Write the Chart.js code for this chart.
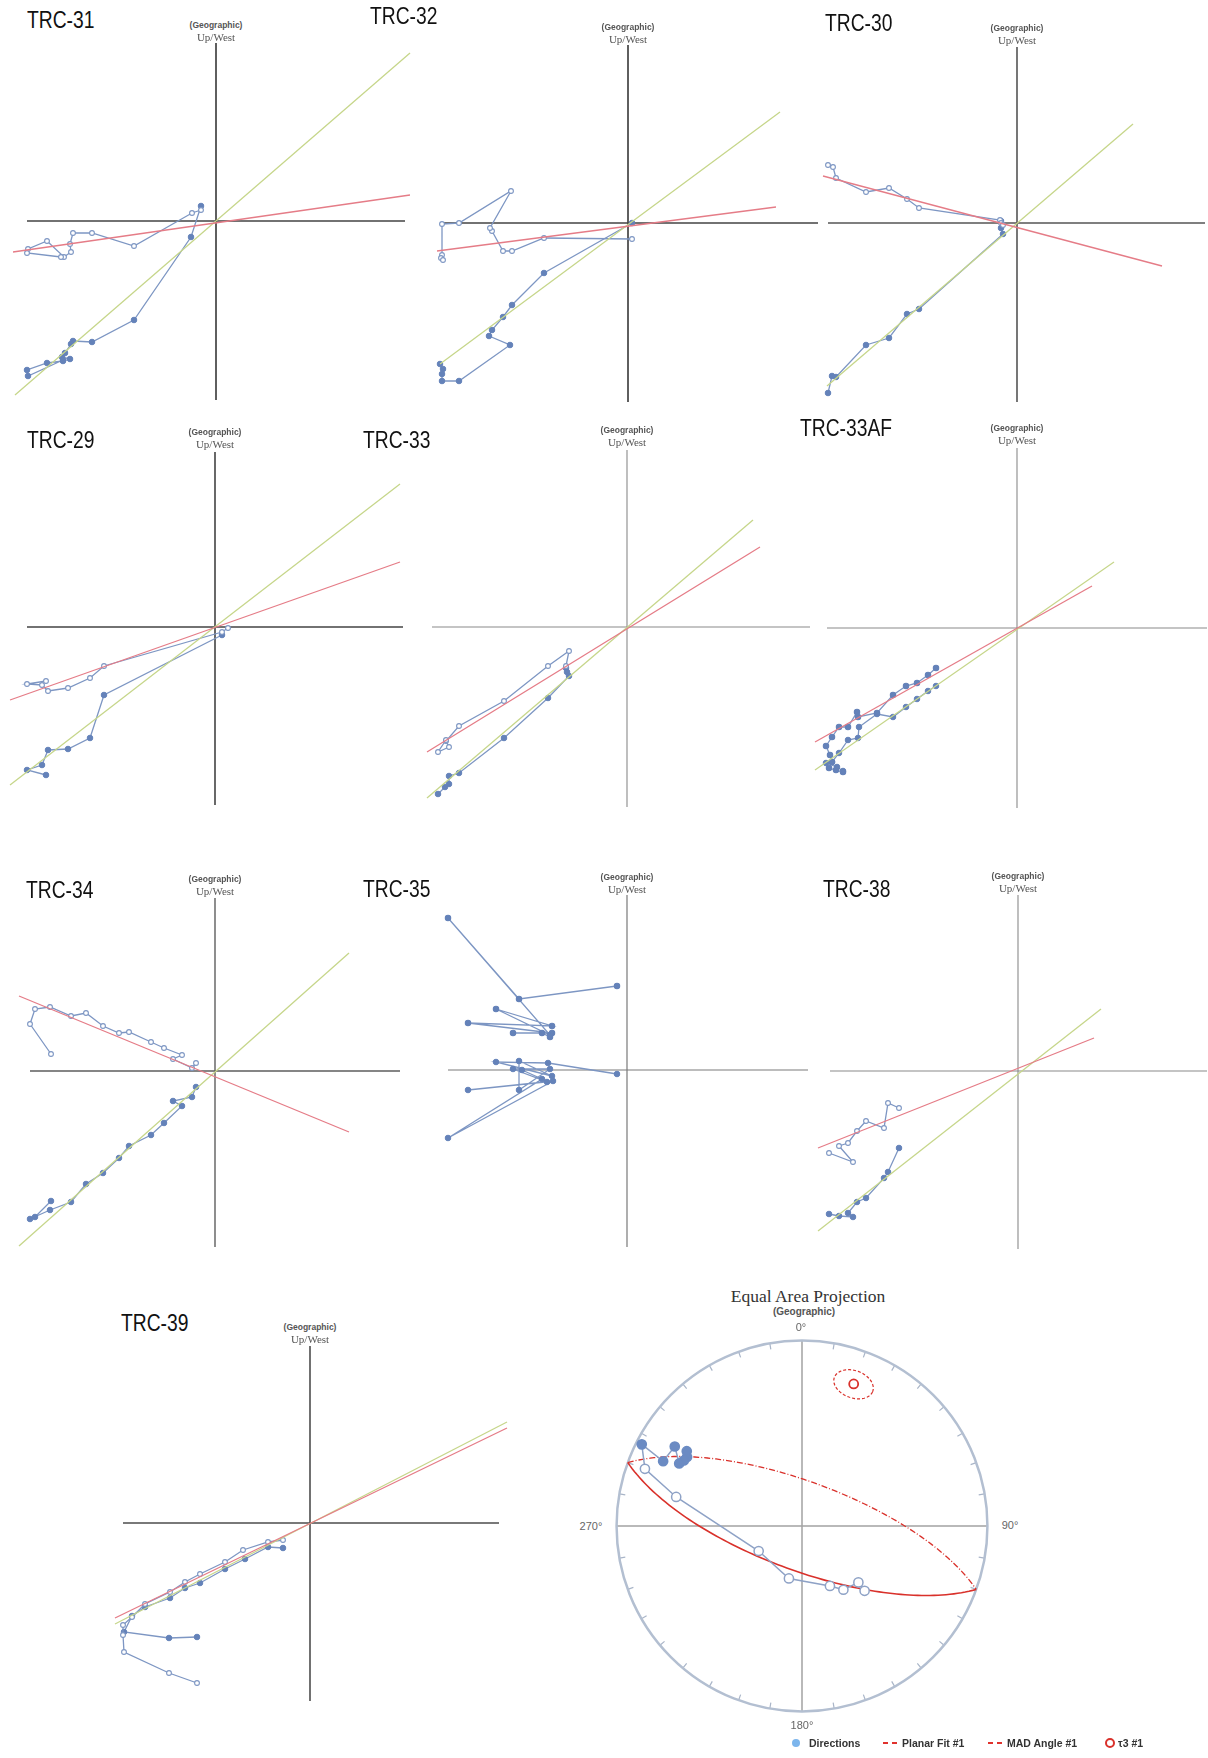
<!DOCTYPE html>
<html>
<head>
<meta charset="utf-8">
<script src="https://cdn.jsdelivr.net/npm/chart.js@4.4.1/dist/chart.umd.min.js"></script>
<style>
html, body { margin: 0; padding: 0; background: #fff; overflow: hidden; }
body { position: relative; width: 1208px; height: 1758px; }
canvas { position: absolute; }
.lbl { position: absolute; white-space: nowrap; }
.title { font-family: "Liberation Sans", Arial, sans-serif; font-size: 23.5px; line-height: 23px; color: #111; transform: scaleX(0.82); transform-origin: left top; }
.geo { font-family: "Liberation Sans", Arial, sans-serif; font-weight: bold; font-size: 8.5px; line-height: 10px; color: #555; transform: translateX(-50%); }
.uw { font-family: "Liberation Serif", "Times New Roman", serif; font-size: 11px; line-height: 12px; color: #555; transform: translateX(-50%); }
.eaTitle { font-family: "Liberation Serif", serif; font-size: 17.5px; line-height: 18px; color: #333; transform: translate(-50%, -50%); }
.eaSub { font-family: "Liberation Sans", Arial, sans-serif; font-weight: bold; font-size: 10px; line-height: 10px; color: #555; transform: translate(-50%, -50%); }
.deg { font-family: "Liberation Sans", Arial, sans-serif; font-size: 11px; line-height: 11px; color: #666; transform: translate(-50%, -50%); }
.leg { font-family: "Liberation Sans", Arial, sans-serif; font-weight: bold; font-size: 10.5px; line-height: 12px; color: #333; top: 1736.5px; }
.dash { position: absolute; top: 1742px; width: 5px; height: 2px; background: #e0322d; }
</style>
</head>
<body>
<script>
// Zijderveld data, [x, y] in plot units (origin = axes crossing)
const trc31H = [[-15,11],[-24,8],[-82,-25],[-124,-12],[-143,-12],[-146,-23],[-145,-31],[-152,-36],[-169,-20],[-188,-28],[-189,-32],[-155,-36]];
const trc31V = [[-15,15],[-25,-16],[-82,-99],[-124,-121],[-143,-120],[-145,-123],[-151,-132],[-154,-136],[-146,-138],[-153,-140],[-169,-142],[-189,-149],[-188,-155],[-153,-139]];
const trc31Green = [[-201,-174],[194,168]];
const trc31Red = [[-203,-31],[194,26]];

const trc32H = [[4,-16],[-84,-15],[-116,-28],[-125,-28],[-136,-8],[-138,-5],[-117,32],[-169,0],[-186,-1],[-186,-32],[-187,-35],[-185,-37]];
const trc32V = [[4,0],[-84,-50],[-116,-82],[-125,-94],[-136,-107],[-139,-113],[-118,-122],[-169,-158],[-186,-158],[-186,-151],[-185,-146],[-188,-141]];
const trc32Green = [[-188,-141],[152,111]];
const trc32Red = [[-191,-28],[148,16]];

const trc30H = [[-189,58],[-184,56],[-181,45],[-151,31],[-128,35],[-110,24],[-98,15],[-17,3],[-16,0],[-14,-2]];
const trc30V = [[-16,2],[-16,-5],[-14,-11],[-98,-86],[-110,-91],[-128,-115],[-151,-122],[-181,-154],[-185,-153],[-189,-170]];
const trc30Green = [[-190,-163],[116,99]];
const trc30Red = [[-194,47],[145,-43]];

const trc29H = [[13,-1],[7,-5],[-111,-39],[-125,-51],[-147,-61],[-167,-64],[-173,-58],[-188,-57],[-169,-54]];
const trc29V = [[7,-8],[-111,-68],[-125,-111],[-147,-122],[-167,-123],[-173,-138],[-188,-143],[-169,-148]];
const trc29Green = [[-205,-158],[185,143]];
const trc29Red = [[-205,-73],[185,65]];

const trc33H = [[-61,-39],[-58,-24],[-79,-39],[-123,-74],[-168,-99],[-181,-114],[-178,-120],[-189,-125],[-181,-113]];
const trc33V = [[-61,-41],[-60,-45],[-58,-49],[-79,-71],[-123,-111],[-168,-146],[-178,-149],[-178,-157],[-182,-160],[-189,-167]];
const trc33Green = [[-200,-171],[126,107]];
const trc33Red = [[-200,-125],[133,80]];

const trc33afH = [[-81,-40],[-89,-47],[-100,-55],[-111,-58],[-124,-67],[-140,-85],[-159,-89],[-160,-84],[-169,-99],[-178,-99],[-185,-109],[-191,-118],[-187,-127],[-185,-134],[-188,-140],[-181,-142],[-174,-144]];
const trc33afV = [[-81,-58],[-89,-63],[-100,-71],[-111,-79],[-124,-89],[-140,-86],[-158,-99],[-159,-110],[-169,-112],[-178,-125],[-185,-134],[-191,-135],[-180,-139],[-174,-143]];
const trc33afGreen = [[-202,-142],[97,66]];
const trc33afRed = [[-202,-114],[75,42]];

const trc34H = [[-19,8],[-23,3],[-42,12],[-33,16],[-51,23],[-64,29],[-86,39],[-96,38],[-112,45],[-129,58],[-144,55],[-165,64],[-180,62],[-185,47],[-164,17]];
const trc34V = [[-19,-16],[-23,-26],[-42,-30],[-33,-35],[-51,-52],[-64,-64],[-86,-75],[-96,-87],[-112,-102],[-129,-113],[-144,-131],[-165,-139],[-185,-148],[-180,-146],[-164,-130]];
const trc34Green = [[-196,-175],[134,118]];
const trc34Red = [[-196,75],[134,-61]];

const trc35H = [[-10,84],[-108,71],[-179,152],[-77,35],[-131,61],[-75,44],[-159,47],[-75,37],[-114,37],[-85,37],[-77,33]];
const trc35V = [[-10,-4],[-79,7],[-131,8],[-75,-6],[-108,9],[-108,-20],[-77,1],[-114,1],[-80,-12],[-159,-20],[-74,-11],[-179,-68],[-85,-9],[-105,0]];

const trc38H = [[-119,-37],[-130,-32],[-134,-57],[-152,-50],[-161,-60],[-170,-72],[-179,-75],[-165,-91],[-189,-82]];
const trc38V = [[-119,-77],[-130,-101],[-134,-107],[-152,-127],[-161,-131],[-170,-142],[-165,-146],[-179,-145],[-189,-143]];
const trc38Green = [[-200,-160],[83,62]];
const trc38Red = [[-200,-77],[76,33]];

const trc39H = [[-27,-17],[-42,-19],[-67,-27],[-85,-39],[-110,-51],[-125,-59],[-140,-69],[-165,-81],[-178,-94],[-187,-102],[-187,-112],[-186,-129],[-141,-150],[-113,-160]];
const trc39V = [[-27,-25],[-42,-24],[-65,-36],[-85,-46],[-110,-60],[-125,-65],[-140,-75],[-165,-84],[-178,-93],[-186,-109],[-141,-115],[-113,-114]];
const trc39Green = [[-195,-101],[197,101]];
const trc39Red = [[-195,-95],[197,95]];

// Equal area data (declination, inclination in degrees)
const dirDec = [301, 303, 299, 297, 302, 295, 297, 290, 283, 240, 194, 155, 147, 135, 136];
const dirInc = [28.5, 26.8, 28, 26.6, 20.2, 18.5, 3.4, -10.8, -31, -68, -66.2, -60.8, -56.3, -54.6, -49.8];
const tau3Dec = 20;
const tau3Inc = 19.6;
const madAngle = 7.3;

// panel layout
const panels = [
  {name:'TRC-31', ox:216, oy:221, tx:27, ty:12, geo:-196, axis:[-189,189,-179,178], ac:'#444', aw:1.7, hOpen:true, h:trc31H, v:trc31V, green:trc31Green, red:trc31Red},
  {name:'TRC-32', ox:628, oy:223, tx:370, ty:8, geo:-196, axis:[-188,190,-179,178], ac:'#444', aw:1.7, hOpen:true, h:trc32H, v:trc32V, green:trc32Green, red:trc32Red},
  {name:'TRC-30', ox:1017, oy:223, tx:825, ty:15, geo:-195, axis:[-189,188,-179,176], ac:'#555', aw:1.6, hOpen:true, h:trc30H, v:trc30V, green:trc30Green, red:trc30Red},
  {name:'TRC-29', ox:215, oy:627, tx:27, ty:432, geo:-195, axis:[-188,188,-178,175], ac:'#444', aw:1.6, hOpen:true, h:trc29H, v:trc29V, green:trc29Green, red:trc29Red},
  {name:'TRC-33', ox:627, oy:627, tx:363, ty:432, geo:-197, axis:[-195,183,-180,177], ac:'#8a8a8a', aw:1.1, hOpen:true, h:trc33H, v:trc33V, green:trc33Green, red:trc33Red},
  {name:'TRC-33AF', ox:1017, oy:628, tx:800, ty:420, geo:-200, axis:[-190,190,-180,180], ac:'#8a8a8a', aw:1.1, hOpen:false, h:trc33afH, v:trc33afV, green:trc33afGreen, red:trc33afRed},
  {name:'TRC-34', ox:215, oy:1071, tx:26, ty:882, geo:-192, axis:[-185,185,-176,173], ac:'#5e5e5e', aw:1.4, hOpen:true, h:trc34H, v:trc34V, green:trc34Green, red:trc34Red},
  {name:'TRC-35', ox:627, oy:1070, tx:363, ty:881, geo:-193, axis:[-179,181,-177,175], ac:'#7a7a7a', aw:1.2, hOpen:false, h:trc35H, v:trc35V, green:null, red:null},
  {name:'TRC-38', ox:1018, oy:1071, tx:823, ty:881, geo:-195, axis:[-188,189,-178,176], ac:'#8a8a8a', aw:1.1, hOpen:true, h:trc38H, v:trc38V, green:trc38Green, red:trc38Red},
  {name:'TRC-39', ox:310, oy:1523, tx:121, ty:1315, geo:-196, axis:[-187,189,-178,177], ac:'#4e4e4e', aw:1.6, hOpen:true, h:trc39H, v:trc39V, green:trc39Green, red:trc39Red}
];

const X_MIN = -212, X_MAX = 200, Y_MIN = -185, Y_MAX = 185;
const BLUE_LINE = '#7d96c3';
const BLUE_DOT = '#6482b9';

function pts(arr) {
  return arr.map(p => ({x: p[0], y: p[1]}));
}

function addLabel(cls, text, left, top) {
  const d = document.createElement('div');
  d.className = 'lbl ' + cls;
  d.textContent = text;
  d.style.left = left + 'px';
  d.style.top = top + 'px';
  document.body.appendChild(d);
}

// draws the two axes through zero using the chart scales
const crossAxes = {
  id: 'crossAxes',
  beforeDatasetsDraw(chart, args, opts) {
    const xs = chart.scales.x, ys = chart.scales.y, ctx = chart.ctx;
    const x0 = xs.getPixelForValue(0), y0 = ys.getPixelForValue(0);
    ctx.save();
    ctx.strokeStyle = opts.color;
    ctx.lineWidth = opts.width;
    ctx.beginPath();
    ctx.moveTo(xs.getPixelForValue(opts.extent[0]), y0);
    ctx.lineTo(xs.getPixelForValue(opts.extent[1]), y0);
    ctx.moveTo(x0, ys.getPixelForValue(opts.extent[2]));
    ctx.lineTo(x0, ys.getPixelForValue(opts.extent[3]));
    ctx.stroke();
    ctx.restore();
  }
};

panels.forEach(p => {
  const c = document.createElement('canvas');
  c.width = X_MAX - X_MIN;
  c.height = Y_MAX - Y_MIN;
  c.style.left = (p.ox + X_MIN) + 'px';
  c.style.top = (p.oy - Y_MAX) + 'px';
  document.body.appendChild(c);

  const datasets = [];
  if (p.red) datasets.push({data: pts(p.red), borderColor: '#e57c87', borderWidth: 1.3, pointRadius: 0, showLine: true, clip: false});
  if (p.green) datasets.push({data: pts(p.green), borderColor: '#c6d68a', borderWidth: 1.3, pointRadius: 0, showLine: true, clip: false});
  datasets.push({
    data: pts(p.h), showLine: true, borderColor: BLUE_LINE, borderWidth: 1.3, clip: false,
    pointRadius: p.hOpen ? 2.4 : 2.7,
    pointBackgroundColor: p.hOpen ? '#ffffff' : BLUE_DOT,
    pointBorderColor: p.hOpen ? BLUE_LINE : BLUE_DOT,
    pointBorderWidth: 1.1
  });
  datasets.push({
    data: pts(p.v), showLine: true, borderColor: BLUE_LINE, borderWidth: 1.3, clip: false,
    pointRadius: 2.8, pointBackgroundColor: BLUE_DOT, pointBorderColor: BLUE_DOT, pointBorderWidth: 1
  });

  new Chart(c, {
    type: 'scatter',
    data: {datasets: datasets},
    options: {
      responsive: false,
      animation: false,
      events: [],
      layout: {padding: 0, autoPadding: false},
      scales: {
        x: {type: 'linear', bounds: 'data', min: X_MIN, max: X_MAX, display: false},
        y: {type: 'linear', bounds: 'data', min: Y_MIN, max: Y_MAX, display: false}
      },
      plugins: {
        legend: {display: false},
        tooltip: {enabled: false},
        crossAxes: {color: p.ac, width: p.aw, extent: p.axis}
      }
    },
    plugins: [crossAxes]
  });

  addLabel('title', p.name, p.tx, p.ty - 3);
  addLabel('geo', '(Geographic)', p.ox, p.oy + p.geo - 5);
  addLabel('uw', 'Up/West', p.ox, p.oy + p.geo + 6);
});

// ---------- Equal area projection ----------
const RAD = Math.PI / 180;
const EA_R = 1000;     // primitive circle radius in scale units
const EA_LIM = 1057;   // scale half-range

function diToVec(dec, inc) {
  return [Math.cos(inc * RAD) * Math.cos(dec * RAD), Math.cos(inc * RAD) * Math.sin(dec * RAD), Math.sin(inc * RAD)];
}
function project(v) {
  const n = Math.hypot(v[0], v[1], v[2]);
  const inc = Math.asin(Math.max(-1, Math.min(1, v[2] / n))) / RAD;
  const dec = Math.atan2(v[1], v[0]);
  const r = EA_R * Math.SQRT2 * Math.sin((90 - Math.abs(inc)) * RAD / 2);
  return {x: r * Math.sin(dec), y: r * Math.cos(dec)};
}
function cross(a, b) {
  return [a[1]*b[2] - a[2]*b[1], a[2]*b[0] - a[0]*b[2], a[0]*b[1] - a[1]*b[0]];
}
function combo(a, ka, b, kb) {
  return [a[0]*ka + b[0]*kb, a[1]*ka + b[1]*kb, a[2]*ka + b[2]*kb];
}

const pole = diToVec(tau3Dec, tau3Inc);
const strike = diToVec(tau3Dec + 90, 0);
let dipVec = cross(pole, strike);
if (dipVec[2] < 0) dipVec = dipVec.map(k => -k);

// plane of the fit: lower half (solid) and upper half (dashed)
const planeLower = [], planeUpper = [];
for (let t = 0; t <= 180; t += 2) planeLower.push(project(combo(strike, Math.cos(t * RAD), dipVec, Math.sin(t * RAD))));
for (let t = 180; t <= 360; t += 2) planeUpper.push(project(combo(strike, Math.cos(t * RAD), dipVec, Math.sin(t * RAD))));

// MAD cone around the pole
const madRing = [];
for (let s = 0; s <= 360; s += 6) {
  const side = combo(strike, Math.cos(s * RAD), dipVec, Math.sin(s * RAD));
  madRing.push(project(combo(pole, Math.cos(madAngle * RAD), side, Math.sin(madAngle * RAD))));
}

const dirPoints = dirDec.map((d, i) => project(diToVec(d, dirInc[i])));

const stereoFrame = {
  id: 'stereoFrame',
  beforeDatasetsDraw(chart) {
    const xs = chart.scales.x, ys = chart.scales.y, ctx = chart.ctx;
    const cx = xs.getPixelForValue(0), cy = ys.getPixelForValue(0);
    const r = xs.getPixelForValue(EA_R) - cx;
    ctx.save();
    ctx.strokeStyle = '#a3a3a3';
    ctx.lineWidth = 1.5;
    ctx.beginPath();
    ctx.moveTo(xs.getPixelForValue(-EA_R), cy); ctx.lineTo(xs.getPixelForValue(EA_R), cy);
    ctx.moveTo(cx, ys.getPixelForValue(-EA_R)); ctx.lineTo(cx, ys.getPixelForValue(EA_R));
    ctx.stroke();
    ctx.strokeStyle = '#a9b5c8';
    ctx.lineWidth = 1.2;
    ctx.beginPath();
    for (let a = 10; a < 360; a += 10) {
      if (a % 90 === 0) continue;
      const s = Math.sin(a * RAD), c = Math.cos(a * RAD);
      ctx.moveTo(cx + r * s, cy - r * c);
      ctx.lineTo(cx + (r - 6) * s, cy - (r - 6) * c);
    }
    ctx.stroke();
    ctx.strokeStyle = '#b3bfd1';
    ctx.lineWidth = 2.5;
    ctx.beginPath();
    ctx.arc(cx, cy, r, 0, Math.PI * 2);
    ctx.stroke();
    ctx.restore();
  }
};

const ea = document.createElement('canvas');
ea.width = 392;
ea.height = 392;
ea.style.left = '606px';
ea.style.top = '1330px';
document.body.appendChild(ea);

new Chart(ea, {
  type: 'scatter',
  data: {
    datasets: [
      {
        label: 'Directions', data: dirPoints, showLine: true, borderColor: '#8ea2c6', borderWidth: 1.5,
        pointRadius: 4.6, pointBorderWidth: 1.5,
        pointBackgroundColor: ctx => dirInc[ctx.dataIndex] >= 0 ? '#6b8bc3' : '#ffffff',
        pointBorderColor: ctx => dirInc[ctx.dataIndex] >= 0 ? '#6b8bc3' : '#8ea2c6'
      },
      {label: 'τ3 #1', data: [project(pole)], pointRadius: 4.5, pointBackgroundColor: '#ffffff', pointBorderColor: '#d9312b', pointBorderWidth: 1.8},
      {label: 'MAD Angle #1', data: madRing, showLine: true, borderColor: '#d9312b', borderWidth: 1.2, borderDash: [3, 2], pointRadius: 0},
      {label: 'Planar Fit #1', data: planeLower, showLine: true, borderColor: '#d9312b', borderWidth: 1.6, pointRadius: 0},
      {label: 'Planar Fit #1 (upper)', data: planeUpper, showLine: true, borderColor: '#d9312b', borderWidth: 1.3, borderDash: [6, 2, 1, 2], pointRadius: 0}
    ]
  },
  options: {
    responsive: false,
    animation: false,
    events: [],
    layout: {padding: 0, autoPadding: false},
    scales: {
      x: {type: 'linear', bounds: 'data', min: -EA_LIM, max: EA_LIM, display: false},
      y: {type: 'linear', bounds: 'data', min: -EA_LIM, max: EA_LIM, display: false}
    },
    plugins: {legend: {display: false}, tooltip: {enabled: false}}
  },
  plugins: [stereoFrame]
});

addLabel('eaTitle', 'Equal Area Projection', 808, 1296);
addLabel('eaSub', '(Geographic)', 804, 1312);
addLabel('deg', '0°', 801, 1327);
addLabel('deg', '90°', 1010, 1525);
addLabel('deg', '180°', 802, 1725);
addLabel('deg', '270°', 591, 1526);

// legend
const legDot = document.createElement('div');
legDot.style.cssText = 'position:absolute;left:792px;top:1738.5px;width:8px;height:8px;border-radius:50%;background:#7cb5ec;';
document.body.appendChild(legDot);
addLabel('leg', 'Directions', 809, 1736.5);
[883, 892, 988, 997].forEach(x => {
  const s = document.createElement('div');
  s.className = 'dash';
  s.style.left = x + 'px';
  document.body.appendChild(s);
});
addLabel('leg', 'Planar Fit #1', 902, 1736.5);
addLabel('leg', 'MAD Angle #1', 1007, 1736.5);
const legRing = document.createElement('div');
legRing.style.cssText = 'position:absolute;left:1104.5px;top:1737.5px;width:6px;height:6px;border-radius:50%;border:2px solid #d9312b;';
document.body.appendChild(legRing);
addLabel('leg', 'τ3 #1', 1118, 1736.5);
</script>
</body>
</html>
